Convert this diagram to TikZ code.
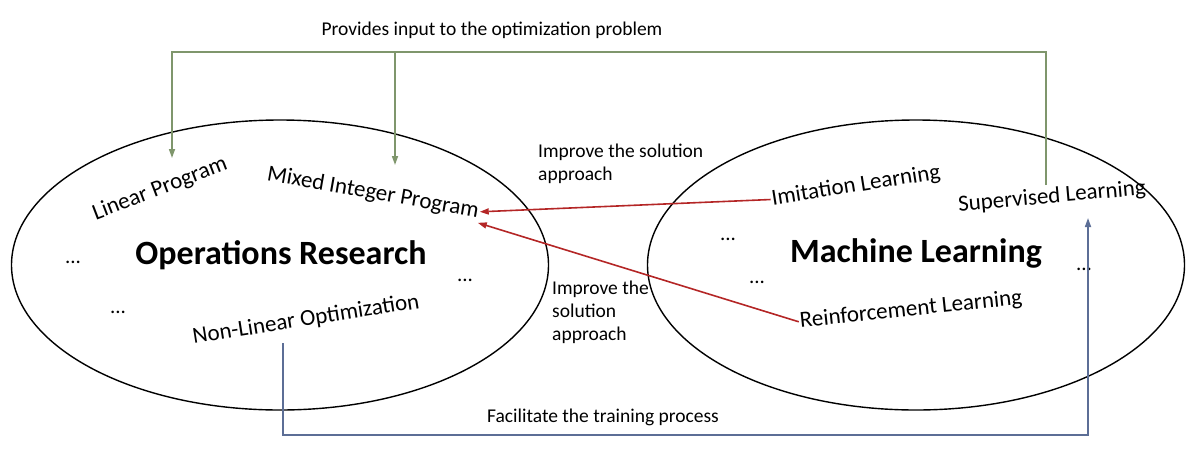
\documentclass[tikz,border=0pt]{standalone}
\usepackage{fontspec}
\setmainfont{Carlito}
\usetikzlibrary{shapes.geometric,arrows.meta}
\definecolor{feedgreen}{RGB}{127,150,108}
\definecolor{trainblue}{RGB}{92,110,150}
\definecolor{solvered}{RGB}{180,38,38}

\begin{document}
\begin{tikzpicture}[x=1pt,y=-1pt]
    \tikzstyle{field}=[ellipse,draw,line width=1.4pt,minimum width=537pt,minimum height=290pt]
    \tikzstyle{topic}=[font=\fontsize{23}{27}\selectfont,inner sep=1pt]
    \tikzstyle{title}=[font=\fontsize{34}{40}\selectfont\bfseries]
    \tikzstyle{note}=[font=\fontsize{19.5}{23}\selectfont,align=left,anchor=north west,inner sep=0pt]
    \tikzstyle{more}=[font=\fontsize{21}{24}\selectfont]
    \tikzstyle{link}=[line width=1.6pt,-{Triangle[length=9pt,width=6pt]}]
    \useasboundingbox (0,0) rectangle (1195,456);
    \node[field] (or) at (280,265) {};
    \node[field] (ml) at (916,265) {};
    \node[title] (ort) at (281,255) {Operations Research};
    \node[title] (mlt) at (916,253) {Machine Learning};
    \node[topic,rotate=21] (lp) at (160,189) {Linear Program};
    \node[topic,rotate=-10] (mip) at (373,193) {Mixed Integer Program};
    \node[topic,rotate=9] (nlo) at (306,320) {Non-Linear Optimization};
    \node[topic,rotate=9] (il) at (856,186) {Imitation Learning};
    \node[topic,rotate=5] (sl) at (1052,197) {Supervised Learning};
    \node[topic,rotate=6] (rl) at (911,310) {Reinforcement Learning};
    \node[more] (ordots1) at (73,262) {...};
    \node[more] (ordots2) at (118,312) {...};
    \node[more] (ordots3) at (465,280) {...};
    \node[more] (mldots1) at (728,239) {...};
    \node[more] (mldots2) at (757,282) {...};
    \node[more] (mldots3) at (1084,269) {...};
    \node[font=\fontsize{19.5}{23}\selectfont] (provides) at (492,30) {Provides input to the optimization problem};
    \node[font=\fontsize{19.5}{23}\selectfont] (facilitate) at (603,417) {Facilitate the training process};
    \node[note] (improve1) at (538,144) {Improve the solution\\approach};
    \node[note] (improve2) at (552,281) {Improve the\\solution\\approach};
    \coordinate (gtop) at (0,52);
    \coordinate (bbot) at (0,435);
    \coordinate (lpin) at (172,158);
    \coordinate (mipin) at (395,165);
    \coordinate (slout) at (1046,185);
    \coordinate (nlout) at (283,343);
    \coordinate (slin) at (1088,218);
    \draw[link,feedgreen] (slout) -- (slout |- gtop) -| (lpin);
    \draw[link,feedgreen] (mipin |- gtop) -- (mipin);
    \draw[link,trainblue] (nlout) -- (nlout |- bbot) -| (slin);
    \draw[link,solvered] (il.west) -- (mip.east);
    \draw[link,solvered] (rl.west) -- (mip.south east);
\end{tikzpicture}
\end{document}
